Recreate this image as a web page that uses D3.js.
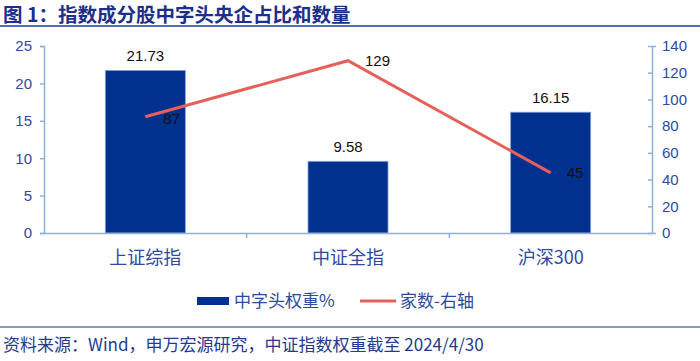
<!DOCTYPE html>
<html><head><meta charset="utf-8">
<script src="https://cdn.jsdelivr.net/npm/d3@7/dist/d3.min.js"></script>
<style>body{margin:0;background:#fff}svg{display:block}text{font-family:"Noto Sans CJK SC","Liberation Sans",Arial,sans-serif}</style>
</head><body><svg id="c" width="700" height="361"></svg>
<script>
const categories = ["上证综指", "中证全指", "沪深300"];
const weights = [21.73, 9.58, 16.15];
const counts = [87, 129, 45];
const leftTicks = [0, 5, 10, 15, 20, 25];
const rightTicks = [0, 20, 40, 60, 80, 100, 120, 140];
const title = "图 1：指数成分股中字头央企占比和数量";
const source = "资料来源：Wind，申万宏源研究，中证指数权重截至 2024/4/30";
const legendNames = ["中字头权重%", "家数-右轴"];

const svg = d3.select("#c");
const L = 44, R = 652, T = 46, B = 233;
const axisCol = "#8fb0d8", tickCol = "#2e4a9e", barCol = "#00318f", lineCol = "#e5605b";

// title
svg.append("text").attr("x", 3).attr("y", 22).attr("font-size", 19.5).attr("font-weight", "bold")
  .attr("fill", "#1c2f8a").text(title);
svg.append("line").attr("x1", 0).attr("x2", 700).attr("y1", 26).attr("y2", 26)
  .attr("stroke", "#4f72b8").attr("stroke-width", 2);

const xb = d3.scaleBand().domain(categories).range([L, R]);
const y = d3.scaleLinear().domain([0, 25]).range([B, T]);
const y2 = d3.scaleLinear().domain([0, 140]).range([B, T]);

// axes
const ga = svg.append("g").attr("transform", `translate(${L},0)`)
  .call(d3.axisLeft(y).tickValues(leftTicks).tickSize(4).tickPadding(6));
const gb = svg.append("g").attr("transform", `translate(${R},0)`)
  .call(d3.axisRight(y2).tickValues(rightTicks).tickSize(4).tickPadding(6));
[ga, gb].forEach(g => {
  g.select(".domain").attr("stroke", axisCol).attr("stroke-width", 1.5);
  g.selectAll(".tick line").attr("stroke", axisCol).attr("stroke-width", 1.5).attr("x2", -4);
  g.selectAll(".tick text").attr("fill", tickCol).attr("font-size", 15)
    .style("font-family", "'Liberation Sans',Arial,sans-serif");
});
ga.selectAll(".tick text").attr("x", -12);
gb.selectAll(".tick text").attr("x", 10);

// bars
const cx = i => xb(categories[i]) + xb.bandwidth() / 2;
svg.selectAll("rect.bar").data(weights).enter().append("rect").attr("class", "bar")
  .attr("x", (d, i) => cx(i) - 40)
  .attr("width", 80)
  .attr("y", d => y(d)).attr("height", d => B - y(d))
  .attr("fill", barCol).attr("stroke", "#7f9fd6").attr("stroke-width", 0.8);
svg.selectAll("text.bl").data(weights).enter().append("text").attr("class", "bl")
  .attr("x", (d, i) => cx(i))
  .attr("y", d => y(d) - 9).attr("text-anchor", "middle").attr("font-size", 15)
  .attr("fill", "#111").style("font-family", "'Liberation Sans',Arial,sans-serif")
  .text(d => d.toFixed(2));

// x axis
const gx = svg.append("g").attr("transform", `translate(0,${B})`)
  .call(d3.axisBottom(xb).tickSize(0).tickPadding(18));
gx.select(".domain").attr("stroke", axisCol).attr("stroke-width", 1.5);
gx.selectAll(".tick text").attr("fill", tickCol).attr("font-size", 18);
gx.selectAll(".tick line").remove();
[1, 2].forEach(i => {
  const xx = L + (R - L) / 3 * i;
  svg.append("line").attr("x1", xx).attr("x2", xx).attr("y1", B).attr("y2", B + 5)
    .attr("stroke", axisCol).attr("stroke-width", 1.5);
});

// line
svg.append("path").datum(counts)
  .attr("d", d3.line().x((d, i) => cx(i)).y(d => y2(d)))
  .attr("fill", "none").attr("stroke", lineCol).attr("stroke-width", 3);
const lOff = [[18, 7], [17, 5], [16, 5]];
svg.selectAll("text.ll").data(counts).enter().append("text").attr("class", "ll")
  .attr("x", (d, i) => cx(i) + lOff[i][0]).attr("y", (d, i) => y2(d) + lOff[i][1])
  .attr("font-size", 15).attr("fill", "#111")
  .style("font-family", "'Liberation Sans',Arial,sans-serif").text(d => d);

// legend
const ly = 301;
svg.append("rect").attr("x", 197).attr("y", ly - 4).attr("width", 32).attr("height", 8).attr("fill", barCol);
svg.append("text").attr("x", 234).attr("y", ly + 6).attr("font-size", 17).attr("fill", tickCol).text(legendNames[0]);
svg.append("line").attr("x1", 360).attr("x2", 396).attr("y1", ly).attr("y2", ly).attr("stroke", lineCol).attr("stroke-width", 3);
svg.append("text").attr("x", 400).attr("y", ly + 6).attr("font-size", 17).attr("fill", tickCol).text(legendNames[1]);

// footer
svg.append("line").attr("x1", 0).attr("x2", 700).attr("y1", 327).attr("y2", 327)
  .attr("stroke", "#5b79bb").attr("stroke-width", 1.5);
svg.append("text").attr("x", 3).attr("y", 351).attr("font-size", 17).attr("fill", "#243a8e").text(source);
</script></body></html>
